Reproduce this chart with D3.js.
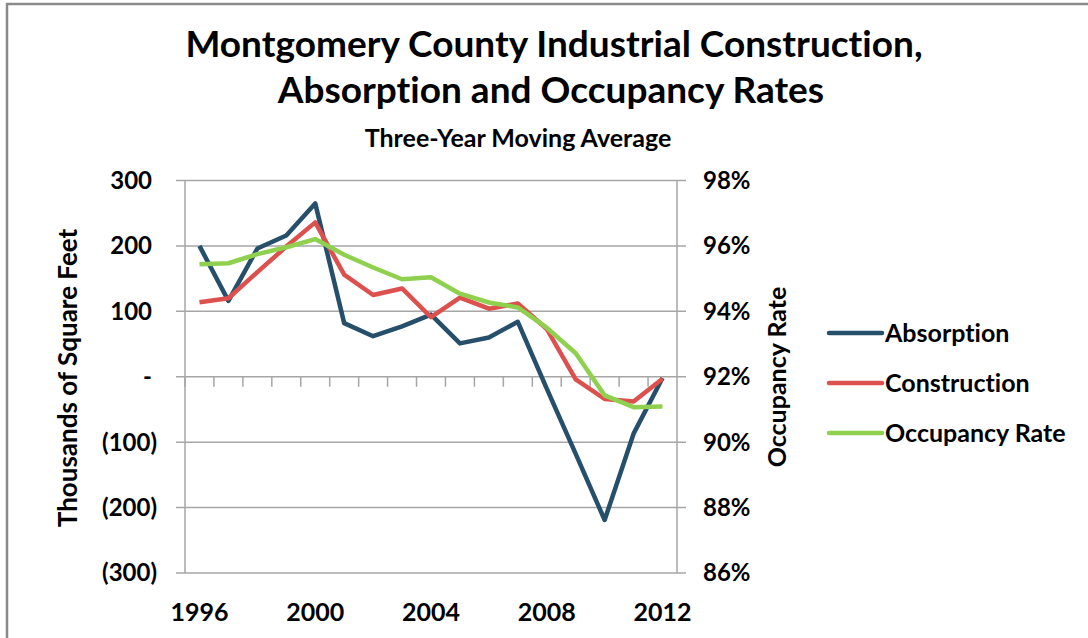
<!DOCTYPE html>
<html>
<head>
<meta charset="utf-8">
<script src="https://cdn.jsdelivr.net/npm/d3@7"></script>
<style>
	body { margin: 0; background: #fff; overflow: hidden; }
	svg { display: block; }
	text { font-family: Lato, "Open Sans", sans-serif; font-weight: bold; fill: #000; font-variant-ligatures: none; }
</style>
</head>
<body>
<div id="chart"></div>
<script>
// data (three-year moving averages)
var years = [1996, 1997, 1998, 1999, 2000, 2001, 2002, 2003, 2004, 2005, 2006, 2007, 2008, 2009, 2010, 2011, 2012];
var absorption = [200, 116, 196, 216, 265, 82, 62, 77, 95, 51, 60, 84, -18, -118, -219, -87, -2];
var construction = [114, 120, 160, 199, 236, 156, 125, 135, 91, 121, 104, 112, 73, -4, -34, -38, -3];
var occupancy = [95.44, 95.47, 95.75, 95.96, 96.21, 95.73, 95.34, 94.98, 95.04, 94.54, 94.27, 94.12, 93.5, 92.72, 91.43, 91.07, 91.09];
var yearLabels = [1996, 2000, 2004, 2008, 2012];
var leftTicks = [300, 200, 100, 0, -100, -200, -300];
var rightTicks = [98, 96, 94, 92, 90, 88, 86];
var seriesNames = ["Absorption", "Construction", "Occupancy Rate"];

function renderChart() {
	var width = 1088,
		height = 638,
		plot = { left: 185, right: 677, top: 180.5, bottom: 573 };

	var svg = d3.select("#chart")
		.append("svg")
		.attr("width", width)
		.attr("height", height);

	// outer frame (only top and left edges are in view)
	svg.append("rect")
		.attr("x", 7)
		.attr("y", 4)
		.attr("width", 2000)
		.attr("height", 2000)
		.style("fill", "none")
		.style("stroke", "#8a8a8a")
		.style("stroke-width", 2.5);

	var color = d3.scaleOrdinal()
		.domain(seriesNames)
		.range(["#264f6c", "#dc504e", "#8fd14f"]);

	var x = d3.scaleBand()
		.domain(years)
		.range([plot.left, plot.right])
		.padding(0);

	var y = d3.scaleLinear()
		.domain([-300, 300])
		.range([plot.bottom, plot.top]);

	var y2 = d3.scaleLinear()
		.domain([86, 98])
		.range([plot.bottom, plot.top]);

	function cx(d, i) {
		return x(years[i]) + x.bandwidth() / 2;
	}

	// gridlines, with the tick stubs on both sides
	svg.append("g")
		.selectAll("line")
		.data(leftTicks)
		.enter()
		.append("line")
		.attr("x1", plot.left - 9)
		.attr("x2", plot.right + 9)
		.attr("y1", function(d) { return y(d); })
		.attr("y2", function(d) { return y(d); })
		.style("stroke", "#a6a6a6")
		.style("stroke-width", 1.5);

	// value axes
	svg.append("line")
		.attr("x1", plot.left).attr("x2", plot.left)
		.attr("y1", plot.top).attr("y2", plot.bottom)
		.style("stroke", "#a6a6a6")
		.style("stroke-width", 1.5);
	svg.append("line")
		.attr("x1", plot.right).attr("x2", plot.right)
		.attr("y1", plot.top).attr("y2", plot.bottom)
		.style("stroke", "#a6a6a6")
		.style("stroke-width", 1.5);

	// category axis sits on zero, ticks between categories
	svg.append("g")
		.attr("transform", "translate(0," + y(0) + ")")
		.call(d3.axisBottom(x).tickSize(0).tickFormat(""))
		.call(function(g) { g.select(".domain").remove(); })
		.selectAll(".tick")
		.append("line")
		.attr("x1", -x.bandwidth() / 2)
		.attr("x2", -x.bandwidth() / 2)
		.attr("y1", 0)
		.attr("y2", 10)
		.style("stroke", "#a6a6a6")
		.style("stroke-width", 1.5);

	// year labels along the bottom
	svg.append("g")
		.selectAll("text")
		.data(yearLabels)
		.enter()
		.append("text")
		.attr("x", function(d) { return x(d) + x.bandwidth() / 2; })
		.attr("y", 621)
		.attr("text-anchor", "middle")
		.style("font-size", "25px")
		.text(function(d) { return d; });

	// left labels in accounting style
	svg.append("g")
		.selectAll("text")
		.data(leftTicks)
		.enter()
		.append("text")
		.attr("x", function(d) { return d < 0 ? 157 : 152; })
		.attr("y", function(d) { return y(d); })
		.attr("dy", "0.35em")
		.attr("text-anchor", "end")
		.style("font-size", "24px")
		.text(function(d) {
			if (d == 0) return "-";
			return d < 0 ? "(" + Math.abs(d) + ")" : d;
		});

	// right labels
	svg.append("g")
		.selectAll("text")
		.data(rightTicks)
		.enter()
		.append("text")
		.attr("x", 703)
		.attr("y", function(d) { return y2(d); })
		.attr("dy", "0.35em")
		.style("font-size", "24px")
		.text(function(d) { return d + "%"; });

	// axis titles
	svg.append("text")
		.attr("transform", "translate(77,378) rotate(-90)")
		.attr("text-anchor", "middle")
		.style("font-size", "26px")
		.text("Thousands of Square Feet");

	svg.append("text")
		.attr("transform", "translate(786,377) rotate(-90)")
		.attr("text-anchor", "middle")
		.style("font-size", "25px")
		.text("Occupancy Rate");

	// the three series
	var lineLeft = d3.line()
		.x(cx)
		.y(function(d) { return y(d); });
	var lineRight = d3.line()
		.x(cx)
		.y(function(d) { return y2(d); });

	svg.append("path")
		.datum(absorption)
		.attr("d", lineLeft)
		.style("fill", "none")
		.style("stroke", color("Absorption"))
		.style("stroke-width", 4.5)
		.style("stroke-linejoin", "round");

	svg.append("path")
		.datum(construction)
		.attr("d", lineLeft)
		.style("fill", "none")
		.style("stroke", color("Construction"))
		.style("stroke-width", 4.5)
		.style("stroke-linejoin", "round");

	svg.append("path")
		.datum(occupancy)
		.attr("d", lineRight)
		.style("fill", "none")
		.style("stroke", color("Occupancy Rate"))
		.style("stroke-width", 4.5)
		.style("stroke-linejoin", "round");

	// legend
	var legend = svg.selectAll(".legend")
		.data(color.domain())
		.enter()
		.append("g")
		.attr("class", "legend")
		.attr("transform", function(d, i) {
			return "translate(829," + (333 + i * 50) + ")";
		});

	legend.append("line")
		.attr("x1", 0)
		.attr("x2", 53)
		.style("stroke", color)
		.style("stroke-width", 4.5)
		.style("stroke-linecap", "round");

	legend.append("text")
		.attr("x", 56)
		.attr("dy", "0.35em")
		.style("font-size", "25px")
		.text(function(d) { return d; });

	// titles
	svg.append("text")
		.attr("x", 554)
		.attr("y", 57)
		.attr("text-anchor", "middle")
		.style("font-size", "37px")
		.text("Montgomery County Industrial Construction,");

	svg.append("text")
		.attr("x", 551)
		.attr("y", 103)
		.attr("text-anchor", "middle")
		.style("font-size", "37px")
		.text("Absorption and Occupancy Rates");

	svg.append("text")
		.attr("x", 518)
		.attr("y", 147)
		.attr("text-anchor", "middle")
		.style("font-size", "25px")
		.text("Three-Year Moving Average");
}

renderChart();
</script>
</body>
</html>
